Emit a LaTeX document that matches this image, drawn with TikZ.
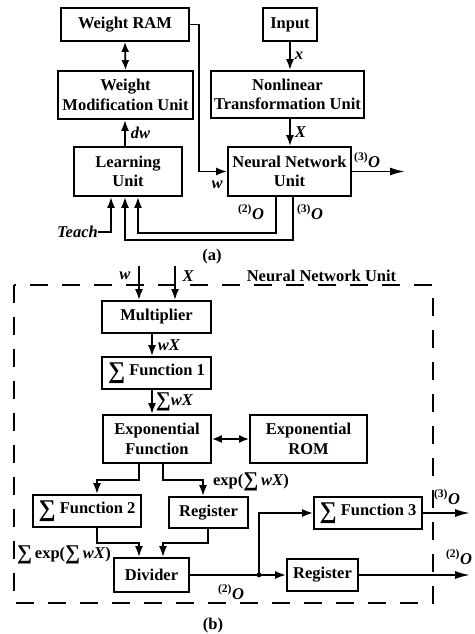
\documentclass[tikz,border=0pt]{standalone}
\usepackage{fontspec}
\setmainfont{Liberation Serif}
\usetikzlibrary{arrows.meta}
\newcommand{\sO}[1]{\textsuperscript{(#1)}\textit{O}}
\newcommand{\bsum}{\raisebox{-2.5pt}{\fontsize{24}{24}\selectfont ∑}}
\newcommand{\msum}{\raisebox{-1.5pt}{\fontsize{21}{21}\selectfont ∑}}
\begin{document}
\begin{tikzpicture}[x=1pt,y=-1pt,
  every node/.style={font=\bfseries\fontsize{16.5}{19.5}\selectfont, inner sep=0pt},
  box/.style={draw, line width=1.8pt, align=center},
  wire/.style={line width=1.8pt},
  arr/.style={wire, -{Latex[length=11pt,width=8pt]}},
  longarr/.style={wire, -{Latex[length=15pt,width=8pt]}},
  dbl/.style={wire, {Latex[length=10pt,width=8pt]}-{Latex[length=10pt,width=8pt]}},
  lab/.style={font=\bfseries\itshape\fontsize{16.5}{19.5}\selectfont},
  frame/.style={line width=1.9pt, dash pattern=on 18pt off 14pt}]
\useasboundingbox (0,0) rectangle (474,634);
% ---------- (a) ----------
\node[box, minimum width=128, minimum height=33] (wram) at (125,24.5) {Weight RAM};
\node[box, minimum width=54, minimum height=33] (input) at (290,24.5) {Input};
\node[box, minimum width=135, minimum height=48] (wmu) at (125.5,95) {Weight\\Modification Unit};
\node[box, minimum width=153, minimum height=47] (ntu) at (287.5,94.5) {Nonlinear\\Transformation Unit};
\node[box, minimum width=108, minimum height=49] (learn) at (128,171.5) {Learning\\Unit};
\node[box, minimum width=123, minimum height=49] (nnu) at (289.5,171.5) {Neural Network\\Unit};

\draw[dbl] (wram.south) -- (wmu.north);
\draw[arr] (input.south) -- (input.south |- ntu.north) node[lab, midway, right=4pt] {x};
\draw[arr] (290,0 |- ntu.south) -- (290,0 |- nnu.north) node[lab, midway, right=4pt] {X};
\draw[arr] (125,0 |- learn.north) -- (125,0 |- wmu.south) node[lab, midway, right=5pt] {dw};
\draw[arr] (wram.east) -- (199,0 |- wram.east) |- (nnu.west);
\node[lab] (wlab) at (217,185) {w};
\coordinate (outa) at (405,171.5);
\draw[longarr] (nnu.east) -- (outa);
\node[anchor=west] (o3a) at (354,160) {\sO{3}};
\coordinate (teach) at (98,232);
\node[lab, anchor=east] (teachlab) at (teach) {Teach};
\draw[arr] (teach) -| (111,0 |- learn.south);
\draw[arr] (276,0 |- nnu.south) |- (138,233) -- (138,0 |- learn.south);
\draw[arr] (293,0 |- nnu.south) |- (125,240) -- (125,0 |- learn.south);
\node (o2b) at (251,212) {\sO{2}};
\node (o3b) at (310,212) {\sO{3}};
\node (capa) at (212,257) {(a)};
% ---------- (b) ----------
\draw[frame] (14,285) rectangle (433,603);
\node (nnulab) at (321.5,276) {Neural Network Unit};
\node[box, minimum width=109, minimum height=32] (mult) at (156.5,317) {Multiplier};
\node[box, minimum width=109, minimum height=32] (f1) at (156.5,373) {\bsum\ Function 1};
\node[box, minimum width=108, minimum height=48] (expf) at (157,439) {Exponential\\Function};
\node[box, minimum width=117, minimum height=48] (erom) at (308.5,439) {Exponential\\ROM};
\node[box, minimum width=108, minimum height=32] (f2) at (87,511) {\bsum\ Function 2};
\node[box, minimum width=79, minimum height=31] (reg1) at (208.5,512.5) {Register};
\node[box, minimum width=75, minimum height=34] (div) at (151.5,575) {Divider};
\node[box, minimum width=108, minimum height=32] (f3) at (368,513) {\bsum\ Function 3};
\node[box, minimum width=71, minimum height=32] (reg2) at (322.5,575) {Register};

\coordinate (win) at (139,266);
\coordinate (xin) at (175,266);
\draw[arr] (win) -- (139,0 |- mult.north);
\draw[arr] (xin) -- (175,0 |- mult.north);
\node[lab] (wl) at (125,276) {w};
\node[lab] (xl) at (188,276) {X};
\draw[arr] (152,0 |- mult.south) -- (152,0 |- f1.north) node[lab, midway, right=5pt] {wX};
\draw[arr] (152,0 |- f1.south) -- (152,0 |- expf.north) node[midway, right=3pt] {\msum\textit{wX}};
\draw[dbl] (expf.east) -- (erom.west);
\draw[arr] (139,0 |- expf.south) -- (139,480) -| (97,0 |- f2.north);
\draw[arr] (163,0 |- expf.south) -- (163,480) -| (203,0 |- reg1.north);
\node (explab) at (251,482) {exp(\msum\,\textit{wX})};
\draw[arr] (97,0 |- f2.south) -- (97,543) -| (139,0 |- div.north);
\draw[arr] (208,0 |- reg1.south) -- (208,543) -| (163,0 |- div.north);
\node (sumexplab) at (64,555) {\msum\,exp(\msum\,\textit{wX})};
\coordinate (junc) at (259,575);
\draw[wire] (div.east) -- (junc);
\draw[arr] (junc) -- (reg2.west);
\draw[arr] (junc) |- (f3.west);
\fill (junc) circle (2.4pt);
\coordinate (out3) at (470,513);
\coordinate (out2) at (470,575);
\draw[longarr] (f3.east) -- (out3);
\draw[longarr] (reg2.east) -- (out2);
\node (o3c) at (447,497) {\sO{3}};
\node (o2c) at (459,557) {\sO{2}};
\node (o2d) at (231,592) {\sO{2}};
\node (capb) at (213,626) {(b)};
\end{tikzpicture}
\end{document}
